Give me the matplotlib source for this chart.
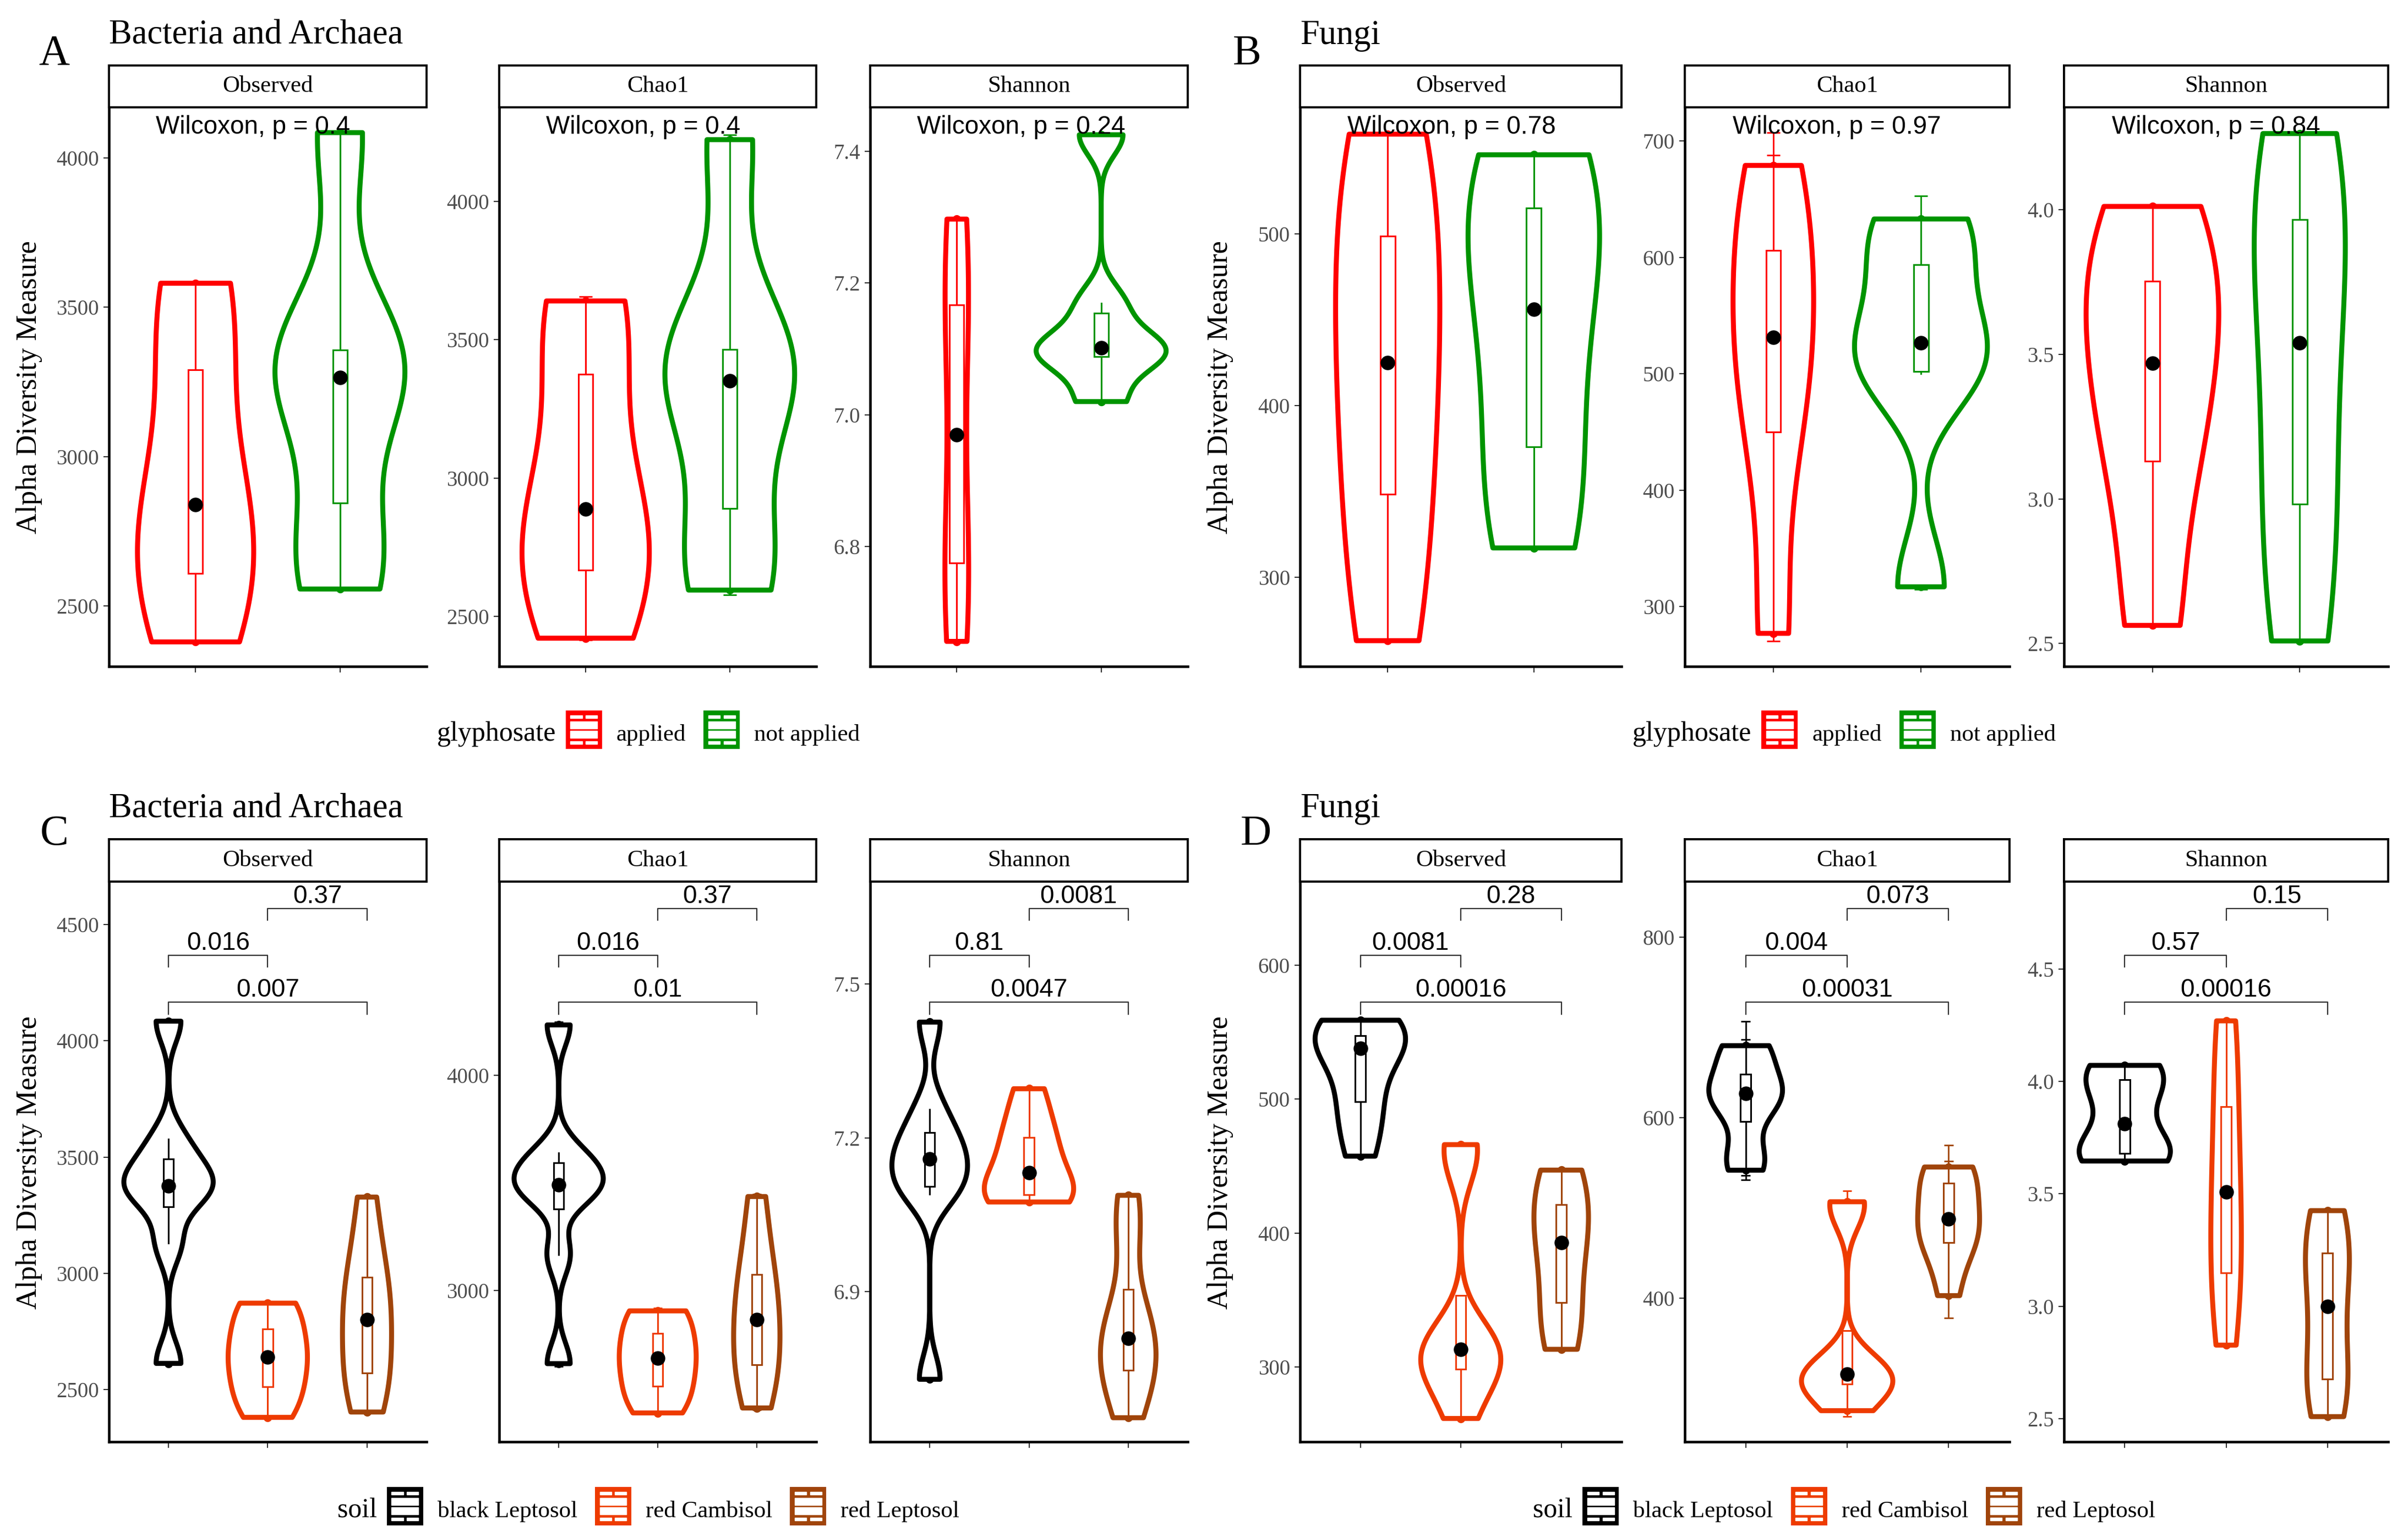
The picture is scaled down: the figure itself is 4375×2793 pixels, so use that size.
import numpy as np
import matplotlib
matplotlib.use("Agg")
import matplotlib.pyplot as plt
import matplotlib.transforms as mtransforms
from matplotlib.patches import Rectangle, Polygon

plt.rcParams['font.family'] = ['Liberation Serif', 'DejaVu Serif']
SANS = ['Liberation Sans', 'DejaVu Sans']

# groups and colours
glyph_groups = ["applied", "not applied"]
glyph_colors = ["#FF0000", "#009400"]
soil_groups = ["black Leptosol", "red Cambisol", "red Leptosol"]
soil_colors = ["#000000", "#EE3B00", "#A0440A"]
metrics = ["Observed", "Chao1", "Shannon"]

# A - bacteria and archaea, glyphosate
bac_glyph_observed = [[2380, 2560, 2760, 2920, 3413, 3580],
                      [2557, 2727, 3200, 3328, 3367, 4084]]
bac_glyph_chao1 = [[2421, 2624, 2800, 2976, 3507, 3640],
                   [2595, 2761, 3280, 3422, 3478, 4223]]
bac_glyph_chao1_se = [[6, 8, 8, 9, 12, 15],
                      [18, 9, 10, 11, 11, 18]]
bac_glyph_shannon = [[6.656, 6.767, 6.80, 7.14, 7.176, 7.297],
                     [7.02, 7.086, 7.095, 7.109, 7.169, 7.425]]
bac_glyph_p = [0.4, 0.4, 0.24]

# B - fungi, glyphosate
fun_glyph_observed = [[263, 331, 400, 450, 515, 558],
                      [317, 358, 430, 482, 526, 546]]
fun_glyph_chao1 = [[277, 430, 510, 553, 624, 679],
                   [317, 500, 508, 545, 610, 633]]
fun_glyph_chao1_se = [[6.5, 10, 12, 12, 64, 28],
                      [2, 8, 8, 10, 12, 19.6]]
fun_glyph_shannon = [[2.563, 3.057, 3.35, 3.59, 3.807, 4.012],
                     [2.509, 2.877, 3.30, 3.78, 4.029, 4.264]]
fun_glyph_p = [0.78, 0.97, 0.84]

# C - bacteria and archaea, soil
bac_soil_observed = [[2613, 3129, 3338, 3350, 3404, 3465, 3576, 4084],
                     [2381, 2450, 2534, 2610, 2672, 2730, 2850, 2872],
                     [2404, 2530, 2587, 2760, 2842, 2950, 3082, 3328]]
bac_soil_chao1 = [[2660, 3165, 3450, 3462, 3518, 3579, 3639, 4233],
                  [2431, 2490, 2577, 2650, 2720, 2770, 2894, 2905],
                  [2454, 2600, 2673, 2820, 2908, 3040, 3180, 3436]]
bac_soil_chao1_se = [[12, 9, 9, 10, 10, 11, 11, 14],
                     [6, 7, 8, 8, 9, 9, 10, 12],
                     [8, 8, 9, 10, 10, 11, 11, 12]]
bac_soil_shannon = [[6.729, 7.09, 7.11, 7.14, 7.178, 7.195, 7.256, 7.426],
                    [7.075, 7.08, 7.092, 7.105, 7.159, 7.19, 7.233, 7.296],
                    [6.654, 6.72, 6.755, 6.785, 6.833, 6.87, 7.006, 7.088]]
# p labels for pairs (1-2), (2-3), (1-3)
bac_soil_p = [["0.016", "0.37", "0.007"],
              ["0.016", "0.37", "0.01"],
              ["0.81", "0.0081", "0.0047"]]

# D - fungi, soil
fun_soil_observed = [[457.4, 485, 502.3, 530, 546, 546.5, 550, 558.8],
                     [261.7, 290, 301.5, 308, 318.6, 319, 457.4, 466],
                     [313.3, 330, 354.1, 385, 401, 415, 440, 447]]
fun_soil_chao1 = [[542, 560, 608, 620, 634, 640, 674, 680],
                  [275.5, 300, 306.7, 313.6, 319, 319.2, 500, 507],
                  [403, 450, 465.7, 480, 496, 522, 544, 545.5]]
fun_soil_chao1_se = [[11, 24, 8, 8, 8, 8, 13, 27],
                     [6.5, 5, 5, 5, 5, 5, 6, 12],
                     [24.5, 8, 8, 8, 8, 8, 8, 24]]
fun_soil_shannon = [[3.6456, 3.66, 3.6867, 3.72, 3.905, 3.99, 4.06, 4.071],
                    [2.827, 3.05, 3.182, 3.40, 3.616, 3.80, 4.148, 4.269],
                    [2.509, 2.62, 2.695, 2.9, 3.1, 3.2, 3.344, 3.425]]
fun_soil_p = [["0.0081", "0.28", "0.00016"],
              ["0.004", "0.073", "0.00031"],
              ["0.57", "0.15", "0.00016"]]

# y ticks per panel
ticks_A = [[2500, 3000, 3500, 4000], [2500, 3000, 3500, 4000], [6.8, 7.0, 7.2, 7.4]]
ticks_B = [[300, 400, 500], [300, 400, 500, 600, 700], [2.5, 3.0, 3.5, 4.0]]
ticks_C = [[2500, 3000, 3500, 4000, 4500], [3000, 4000], [6.9, 7.2, 7.5]]
ticks_D = [[300, 400, 500, 600], [400, 600, 800], [2.5, 3.0, 3.5, 4.0, 4.5]]

# y limits per panel
ylim_A = [(2298, 4165), (2319, 4336), (6.618, 7.465)]
ylim_B = [(248, 573), (248.6, 728), (2.421, 4.351)]
ylim_C = [(2276, 4677), (2297, 4891), (6.607, 7.697)]
ylim_D = [(244.3, 661), (241, 860), (2.397, 4.881)]

W, H = 4375, 2793
fig = plt.figure(figsize=(W / 100, H / 100), dpi=100)
fig.patch.set_facecolor('white')


def px_axes(x0, y0, x1, y1):
    return fig.add_axes([x0 / W, 1 - y1 / H, (x1 - x0) / W, (y1 - y0) / H])


def bw_nrd0(x):
    hi = np.std(x, ddof=1)
    q1, q3 = np.percentile(x, [25, 75])
    lo = min(hi, (q3 - q1) / 1.34)
    if lo == 0:
        lo = hi if hi > 0 else 1.0
    return 0.9 * lo * len(x) ** -0.2


def violin_density(x):
    x = np.asarray(x, float)
    bw = bw_nrd0(x)
    grid = np.linspace(x.min(), x.max(), 512)
    d = np.exp(-0.5 * ((grid[:, None] - x[None, :]) / bw) ** 2).sum(axis=1)
    d /= len(x) * bw * np.sqrt(2 * np.pi)
    return grid, d


def draw_violins(ax, groups, colors, se=None):
    dens = [violin_density(g) for g in groups]
    top = max(d.max() for _, d in dens)
    for i, (vals, col) in enumerate(zip(groups, colors)):
        pos = i + 1
        vals = np.asarray(vals, float)
        if se is not None:
            s = np.asarray(se[i], float)
            ax.vlines(np.full(len(vals), pos), vals - s, vals + s, color=col, lw=2, zorder=1)
            ax.hlines(np.r_[vals - s, vals + s], pos - 0.045, pos + 0.045, color=col, lw=2, zorder=1)
        ax.plot(np.full(len(vals), pos), vals, 'o', color=col, ms=10, zorder=2)
        grid, d = dens[i]
        half = d / top * 0.45
        xs = np.r_[pos - half, (pos + half)[::-1]]
        ys = np.r_[grid, grid[::-1]]
        ax.add_patch(Polygon(np.c_[xs, ys], closed=True, facecolor='white', edgecolor=col,
                             lw=6.5, joinstyle='round', zorder=3))
        ax.boxplot([vals], positions=[pos], widths=0.1, patch_artist=True, showcaps=False,
                   showfliers=False, manage_ticks=False, zorder=4,
                   boxprops=dict(facecolor='white', edgecolor=col, linewidth=2.2),
                   whiskerprops=dict(color=col, linewidth=2.2),
                   medianprops=dict(color=col, linewidth=2.2))
        ax.plot(pos, np.median(vals), 'o', color='black', ms=18, zorder=5)


def style_axes(ax, n, ylim, yticks, fmt):
    ax.set_xlim(0.4, n + 0.6)
    ax.set_ylim(*ylim)
    ax.set_xticks(range(1, n + 1))
    ax.set_xticklabels([])
    ax.set_yticks(yticks)
    ax.set_yticklabels([fmt.format(t) for t in yticks])
    for s in ['top', 'right']:
        ax.spines[s].set_visible(False)
    for s in ['left', 'bottom']:
        ax.spines[s].set_linewidth(3.3)
    ax.tick_params(axis='y', length=7, width=1.5, color='#333333', labelsize=28,
                   labelcolor='#4D4D4D', pad=6)
    ax.tick_params(axis='x', length=8, width=1.5, color='#333333')


def strip(x0, x1, y0, y1, text):
    sa = px_axes(x0, y0, x1, y1)
    sa.set_xticks([])
    sa.set_yticks([])
    for s in sa.spines.values():
        s.set_linewidth(2.8)
    sa.text(0.5, 0.5, text, ha='center', va='center', fontsize=31, transform=sa.transAxes)


pairs = [(1, 2), (2, 3), (1, 3)]
levels = [0.871, 0.955, 0.787]


def brackets(ax, labels):
    tr = mtransforms.blended_transform_factory(ax.transData, ax.transAxes)
    for (a, b), lev, lab in zip(pairs, levels, labels):
        ax.plot([a, a, b, b], [lev - 0.021, lev, lev, lev - 0.021], color='#333333',
                lw=1.6, transform=tr, clip_on=False)
        ax.text((a + b) / 2, lev + 0.0097, lab, ha='center', va='baseline', fontsize=33,
                family=SANS, transform=tr)


cols_left = [(198, 775), (907, 1483), (1581, 2158)]
cols_right = [(2362, 2946), (3061, 3651), (3750, 4339)]
row_top = dict(strip=(119, 195), axes=(197, 1211), title=80, letter=117, legend=1326)
row_bot = dict(strip=(1525, 1602), axes=(1605, 2620), title=1485, letter=1535, legend=2737)

blocks = [
    ("A", "Bacteria and Archaea", cols_left, row_top,
     [bac_glyph_observed, bac_glyph_chao1, bac_glyph_shannon], bac_glyph_chao1_se,
     glyph_colors, ticks_A, ylim_A, bac_glyph_p, None, 70, "glyphosate", glyph_groups),
    ("B", "Fungi", cols_right, row_top,
     [fun_glyph_observed, fun_glyph_chao1, fun_glyph_shannon], fun_glyph_chao1_se,
     glyph_colors, ticks_B, ylim_B, fun_glyph_p, None, 2240, "glyphosate", glyph_groups),
    ("C", "Bacteria and Archaea", cols_left, row_bot,
     [bac_soil_observed, bac_soil_chao1, bac_soil_shannon], bac_soil_chao1_se,
     soil_colors, ticks_C, ylim_C, None, bac_soil_p, 73, "soil", soil_groups),
    ("D", "Fungi", cols_right, row_bot,
     [fun_soil_observed, fun_soil_chao1, fun_soil_shannon], fun_soil_chao1_se,
     soil_colors, ticks_D, ylim_D, None, fun_soil_p, 2254, "soil", soil_groups),
]


def draw_key(x, cy, col, kw=66, kh=70):
    ka = px_axes(x, cy - kh / 2, x + kw, cy + kh / 2)
    ka.set_xlim(0, 1)
    ka.set_ylim(0, 1)
    ka.axis('off')
    ka.add_patch(Rectangle((0, 0), 1, 1, color=col))
    for y0, y1 in [(0.80, 0.87), (0.13, 0.20)]:
        ka.add_patch(Rectangle((0.13, y0), 0.32, y1 - y0, color='white'))
        ka.add_patch(Rectangle((0.55, y0), 0.32, y1 - y0, color='white'))
    ka.add_patch(Rectangle((0.13, 0.53), 0.74, 0.19, color='white'))
    ka.add_patch(Rectangle((0.13, 0.28), 0.74, 0.19, color='white'))


def legend(title, labels, colors, cx, cy):
    r = fig.canvas.get_renderer()

    def width(s, size):
        t = fig.text(0, 0, s, fontsize=size)
        w = t.get_window_extent(r).width
        t.remove()
        return w

    kw = 66
    wt = width(title, 36)
    wl = [width(l, 31) for l in labels]
    total = wt + 18 + sum(kw + 26 + w for w in wl) + 32 * (len(labels) - 1)
    x = cx - total / 2
    fig.text(x / W, 1 - (cy + 20) / H, title, fontsize=36, ha='left', va='baseline')
    x += wt + 18
    for lab, w, col in zip(labels, wl, colors):
        draw_key(x, cy, col)
        x += kw + 26
        fig.text(x / W, 1 - (cy + 20) / H, lab, fontsize=31, ha='left', va='baseline')
        x += w + 32


for (letter, title, cols, row, data, se, colors, ticks, ylims, wil_p, pair_p,
     letter_x, leg_title, leg_labels) in blocks:
    y0, y1 = row['axes']
    for k, m in enumerate(metrics):
        x0, x1 = cols[k]
        strip(x0, x1, row['strip'][0], row['strip'][1], m)
        ax = px_axes(x0, y0, x1, y1)
        ax.patch.set_alpha(0)
        draw_violins(ax, data[k], colors, se if m == "Chao1" else None)
        fmt = "{:.1f}" if m == "Shannon" else "{:.0f}"
        style_axes(ax, len(colors), ylims[k], ticks[k], fmt)
        if wil_p is not None:
            ax.text(0.148, 0.955, f"Wilcoxon, p = {wil_p[k]}", transform=ax.transAxes,
                    ha='left', va='baseline', fontsize=33, family=SANS)
        if pair_p is not None:
            brackets(ax, pair_p[k])
    fig.text(cols[0][0] / W, 1 - row['title'] / H, title, fontsize=45, ha='left', va='baseline')
    fig.text(letter_x / W, 1 - row['letter'] / H, letter, fontsize=56, ha='left', va='baseline')
    ylab_x = cols[0][0] - 145
    fig.text(ylab_x / W, 1 - (y0 + y1) / 2 / H, "Alpha Diversity Measure", rotation=90,
             fontsize=38, ha='center', va='center')
    legend(leg_title, leg_labels, colors, (cols[0][0] + cols[2][1]) / 2, row['legend'])

fig.savefig("out.png", dpi=100, facecolor='white')
